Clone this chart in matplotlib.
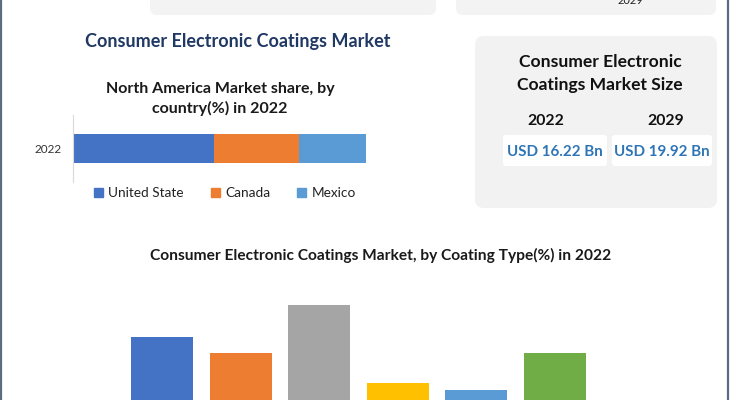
import matplotlib.pyplot as plt
from matplotlib.patches import FancyBboxPatch, Patch

plt.rcParams['font.family'] = ['Lato', 'DejaVu Sans']

W, H = 735, 400

# North America share by country (%), 2022
countries = ['United State', 'Canada', 'Mexico']
country_share = [48.2, 29.0, 22.8]
country_colors = ['#4472c4', '#ed7d31', '#5b9bd5']

# market size
size_years = ['2022', '2029']
size_values = ['USD 16.22 Bn', 'USD 19.92 Bn']

# share by coating type (%), 2022 - the category labels fall below the visible area
coating_types = ['Acrylic', 'Polyurethane', 'Epoxy', 'Fluoropolymer', 'Parylene', 'Others']
coating_share = [20.8, 16.8, 28.8, 9.2, 7.6, 16.8]
coating_colors = ['#4472c4', '#ed7d31', '#a5a5a5', '#ffc000', '#5b9bd5', '#70ad47']


def px_rect(l, t, r, b):
    return [l / W, 1 - b / H, (r - l) / W, (b - t) / H]


fig = plt.figure(figsize=(W / 100, H / 100), dpi=100)
fig.patch.set_facecolor('white')

bg = fig.add_axes([0, 0, 1, 1])
bg.set_xlim(0, W)
bg.set_ylim(H, 0)
bg.axis('off')

# frame lines
bg.plot([1.5, 1.5], [0, H], color='#5b6b82', lw=1.6)
bg.plot([728.5, 728.5], [0, H], color='#5b6b82', lw=1.6)

# cards cut at the top
for x0, x1 in [(150, 436), (456, 716)]:
    bg.add_patch(FancyBboxPatch((x0, -20), x1 - x0, 35, boxstyle='round,pad=0,rounding_size=7',
                                fc='#f3f3f3', ec='none'))
bg.text(630, 0.5, '2029', ha='center', va='center', fontsize=8, color='#222222')

bg.text(238, 41, 'Consumer Electronic Coatings Market', ha='center', va='center',
        fontsize=13.0, fontweight='bold', color='#203864')

# market size card
bg.add_patch(FancyBboxPatch((475, 36), 242, 172, boxstyle='round,pad=0,rounding_size=9',
                            fc='#f2f2f2', ec='none'))
bg.text(600, 73.5, 'Consumer Electronic\nCoatings Market Size', ha='center', va='center',
        fontsize=12.6, fontweight='bold', color='#111111', linespacing=1.5)
for i, (yr, val) in enumerate(zip(size_years, size_values)):
    cx = [555, 662][i]
    bg.text([546, 666][i], 121, yr, ha='center', va='center', fontsize=11.3,
            fontweight='bold', color='#111111')
    bg.add_patch(FancyBboxPatch(([503, 612][i], 135), [104, 100][i], 31,
                                boxstyle='round,pad=0,rounding_size=3', fc='white', ec='none'))
    bg.text(cx, 152, val, ha='center', va='center', fontsize=10.9,
            fontweight='bold', color='#2e75b6')

# small stacked bar
bg.text(220, 99, 'North America Market share, by\ncountry(%) in 2022', ha='center', va='center',
        fontsize=11.5, fontweight='bold', color='#1a1a1a', linespacing=1.45)
ax1 = fig.add_axes(px_rect(73, 115, 366, 182))
left = 0
for name, v, c in zip(countries, country_share, country_colors):
    ax1.barh([0], [v], left=left, height=0.42, color=c, label=name)
    left += v
ax1.set_xlim(0, sum(country_share))
ax1.set_ylim(-0.5, 0.5)
ax1.set_yticks([0])
ax1.set_yticklabels(['2022'], fontsize=8.5, color='#333333')
ax1.tick_params(length=0, pad=8)
ax1.set_xticks([])
for s in ['top', 'right', 'bottom']:
    ax1.spines[s].set_visible(False)
ax1.spines['left'].set_color('#d9d9d9')
ax1.patch.set_alpha(0)
handles = [Patch(color=c, label=n) for n, c in zip(countries, country_colors)]
bg.legend(handles=handles, loc='center', bbox_to_anchor=(225, 193), bbox_transform=bg.transData,
          ncol=3, frameon=False, fontsize=9.8, handlelength=0.65, handleheight=0.65,
          handletextpad=0.4, columnspacing=2.0, labelcolor='#222222')

# coating type chart (bottom cut off)
bg.text(381, 255, 'Consumer Electronic Coatings Market, by Coating Type(%) in 2022',
        ha='center', va='center', fontsize=11.2, fontweight='bold', color='#1a1a1a')
ax2 = fig.add_axes(px_rect(122.7, 280, 594.3, 420))
ax2.bar(coating_types, coating_share, width=0.79, color=coating_colors)
ax2.set_xlim(-0.5, len(coating_types) - 0.5)
ax2.set_ylim(0, 35)
ax2.set_xticks([])
ax2.set_yticks([])
for s in ax2.spines.values():
    s.set_visible(False)
ax2.patch.set_alpha(0)

fig.savefig('out.png', dpi=100)
